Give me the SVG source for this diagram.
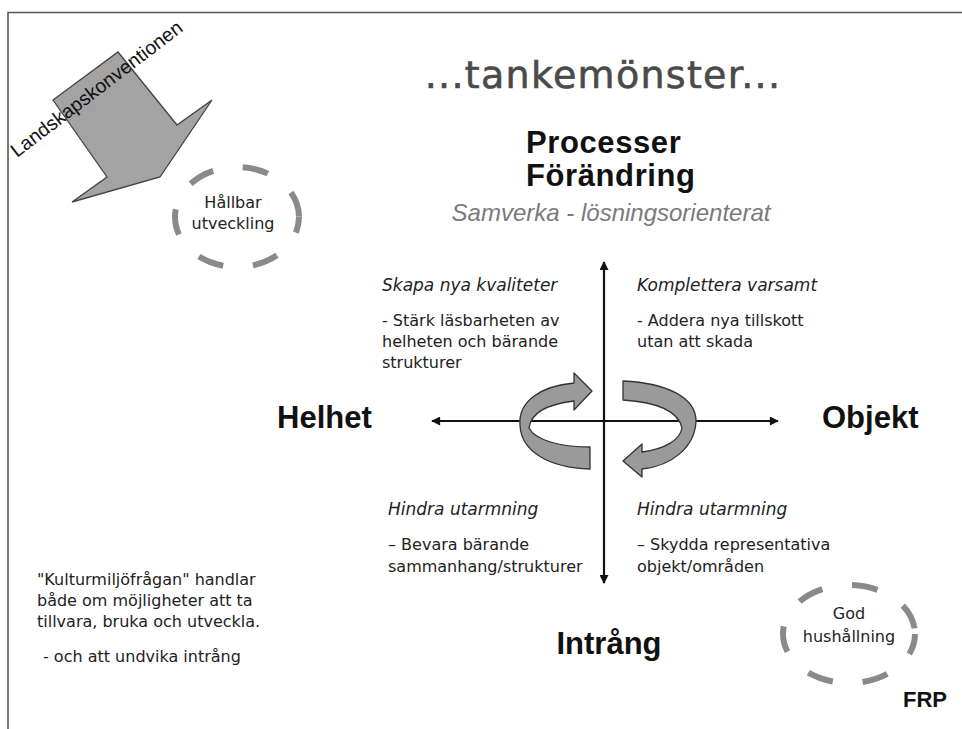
<svg xmlns="http://www.w3.org/2000/svg" width="962" height="729" viewBox="0 0 962 729">
<style>
.t{font-family:"DejaVu Sans","Liberation Sans",sans-serif;font-size:16px;fill:#222}
.h{font-style:italic;font-size:17px}
.big{font-family:"Liberation Sans",Arial,sans-serif;font-weight:bold;font-size:31px;fill:#111}
.ax{stroke:#111;stroke-width:2.2;fill:none}
.dash{fill:none;stroke:#8a8a8a;stroke-width:6;stroke-dasharray:26 30}
.ring{fill:#9a9a9a;stroke:#333;stroke-width:1.3;stroke-linejoin:round}
</style>
<defs>
<marker id="ah" viewBox="0 0 10 10" refX="9" refY="5" markerWidth="11" markerHeight="9" markerUnits="userSpaceOnUse" orient="auto-start-reverse">
<path d="M0,0 L10,5 L0,10 Z" fill="#111"/>
</marker>
</defs>
<rect width="962" height="729" fill="#fff"/>
<g id="frame">
<path d="M8,729 L8,12.5 L962,12.5" fill="none" stroke="#555" stroke-width="1.6"/>
</g>
<g id="landskapskonventionen">
<polygon points="53,100 118,52 177,125 212,100 160,177 72,202 107,177" fill="#a3a3a3" stroke="#444" stroke-width="1.3" stroke-linejoin="miter"/>
<text transform="translate(17,158) rotate(-37.4)" font-family="Liberation Sans, Arial, sans-serif" font-size="19.5" fill="#111">Landskapskonventionen</text>
</g>
<g id="hallbar">
<ellipse cx="237" cy="217" rx="62" ry="50" class="dash" stroke-dashoffset="10"/>
<text class="t" x="233" y="208" text-anchor="middle" font-size="17.5" fill="#333">Hållbar</text>
<text class="t" x="233" y="229" text-anchor="middle" font-size="17.5" fill="#333">utveckling</text>
</g>
<g id="title">
<text x="603" y="88" text-anchor="middle" font-family="DejaVu Sans, sans-serif" font-size="38" letter-spacing="1.3" fill="#4a4a4a" stroke="#4a4a4a" stroke-width="0.6">...tankemönster...</text>
</g>
<g id="processer">
<text class="big" x="526" y="153" font-size="30" letter-spacing="0.6">Processer</text>
<text class="big" x="526" y="186" font-size="30" letter-spacing="0.6">Förändring</text>
<text x="611" y="221" text-anchor="middle" font-family="Liberation Sans, Arial, sans-serif" font-style="italic" font-size="24" fill="#7a7a7a">Samverka - lösningsorienterat</text>
</g>
<g id="connectors">
<line class="ax" x1="604" y1="421" x2="604" y2="262" marker-end="url(#ah)"/>
<line class="ax" x1="604" y1="421" x2="604" y2="583" marker-end="url(#ah)"/>
<line class="ax" x1="604" y1="421" x2="432" y2="421" marker-end="url(#ah)"/>
<line class="ax" x1="604" y1="421" x2="778" y2="421" marker-end="url(#ah)"/>
</g>
<g id="cycle-left">
<path class="ring" d="M590,447 C560,447 535,440 529,428 C531,412 549,404 574,401 L574,410 L592,391 L574,373 L574,383 C540,386 518,402 520,425 C521,452 550,468 590,469 Z"/>
</g>
<g id="cycle-right">
<path class="ring" d="M623,381 C668,383 696,398 696,421 C695,447 672,466 642,469 L642,477 L623,461 L642,444 L642,452 C665,449 680,440 682,428 C678,410 655,402 623,400 Z"/>
</g>
<g id="helhet"><text class="big" x="277" y="428">Helhet</text></g>
<g id="objekt"><text class="big" x="822" y="428">Objekt</text></g>
<g id="intrang"><text class="big" x="609" y="654" text-anchor="middle">Intrång</text></g>
<g id="q-top-left">
<text class="t h" x="382" y="291">Skapa nya kvaliteter</text>
<text class="t" x="382" y="326">- Stärk läsbarheten av</text>
<text class="t" x="382" y="347">helheten och bärande</text>
<text class="t" x="382" y="368">strukturer</text>
</g>
<g id="q-top-right">
<text class="t h" x="637" y="291">Komplettera varsamt</text>
<text class="t" x="637" y="326">- Addera  nya tillskott</text>
<text class="t" x="637" y="347">utan att skada</text>
</g>
<g id="q-bottom-left">
<text class="t h" x="388" y="515">Hindra utarmning</text>
<text class="t" x="388" y="550">– Bevara bärande</text>
<text class="t" x="388" y="572">sammanhang/strukturer</text>
</g>
<g id="q-bottom-right">
<text class="t h" x="637" y="515">Hindra utarmning</text>
<text class="t" x="637" y="550">– Skydda representativa</text>
<text class="t" x="637" y="572">objekt/områden</text>
</g>
<g id="kulturmiljo">
<text class="t" x="37" y="585" font-size="17">"Kulturmiljöfrågan" handlar</text>
<text class="t" x="37" y="606" font-size="17">både om möjligheter att ta</text>
<text class="t" x="37" y="627" font-size="17">tillvara, bruka och utveckla.</text>
<text class="t" x="43" y="662" font-size="17">- och att undvika intrång</text>
</g>
<g id="god-hushallning">
<ellipse cx="849" cy="634" rx="66" ry="49" class="dash" stroke-dashoffset="5"/>
<text class="t" x="849" y="619" text-anchor="middle" font-size="18" fill="#222">God</text>
<text class="t" x="849" y="642" text-anchor="middle" font-size="18" fill="#222">hushållning</text>
</g>
<g id="frp"><text x="925" y="707" text-anchor="middle" font-family="Liberation Sans, Arial, sans-serif" font-weight="bold" font-size="22" fill="#111">FRP</text></g>
</svg>
